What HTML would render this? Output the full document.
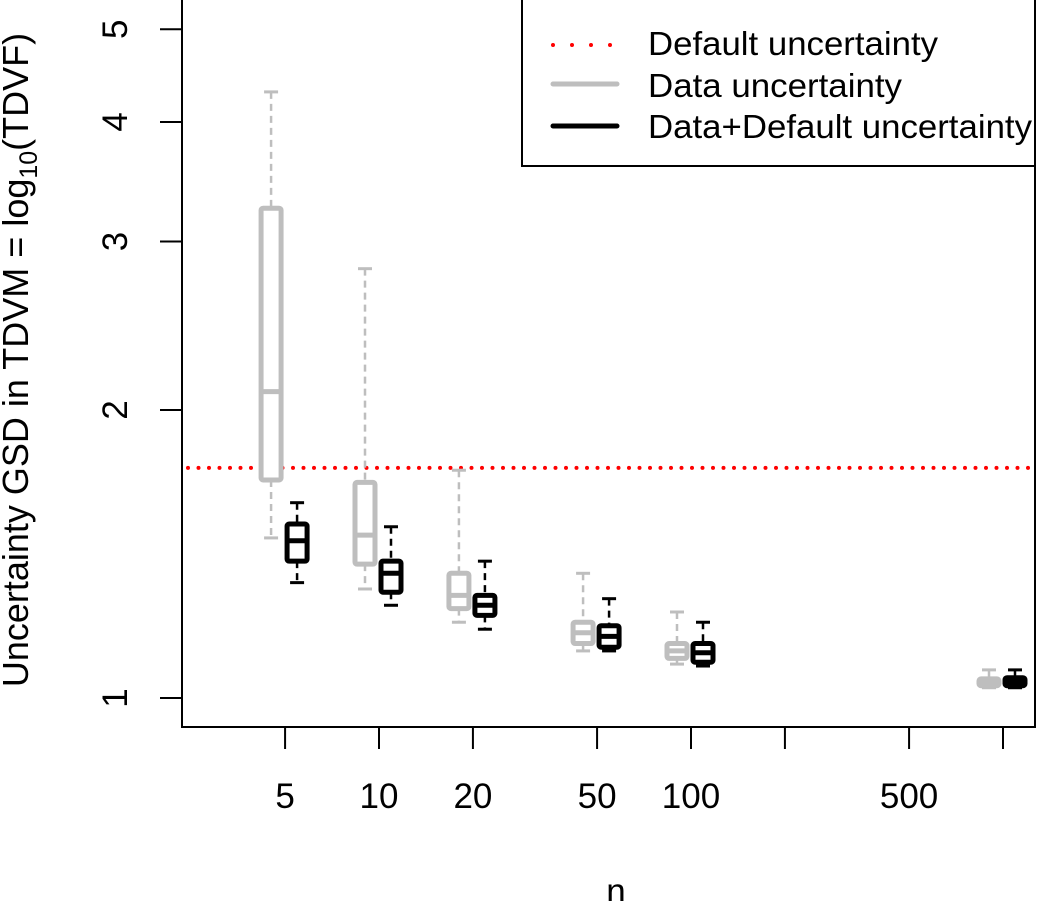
<!DOCTYPE html>
<html><head><meta charset="utf-8"><style>
html,body{margin:0;padding:0;background:#fff;}
svg{display:block;font-family:"Liberation Sans",Arial,sans-serif;}
</style></head><body>
<svg id="chart" width="1050" height="901" viewBox="0 0 1050 901" xmlns="http://www.w3.org/2000/svg">
<rect x="182" y="-2" width="853" height="729" fill="none" stroke="#000" stroke-width="2"/>
<g id="axes"></g>
<g id="marks"></g>
<text transform="translate(28,360) rotate(-90)" text-anchor="middle" font-size="36">Uncertainty GSD in TDVM =  <tspan>log</tspan><tspan font-size="25" dy="9">10</tspan><tspan dy="-9">(TDVF)</tspan></text>
<text x="616" y="903" text-anchor="middle" font-size="35">n</text>
<g>
<rect x="522" y="-2" width="513" height="168" fill="#fff" stroke="#000" stroke-width="2"/>
<line x1="553" y1="45" x2="613" y2="45" stroke="#f00" stroke-width="4" stroke-dasharray="0,19" stroke-linecap="round"/>
<text x="648" y="55" font-size="33" textLength="290" lengthAdjust="spacingAndGlyphs">Default uncertainty</text>
<line x1="553" y1="84" x2="617" y2="84" stroke="#bebebe" stroke-width="5" stroke-linecap="round"/>
<text x="648" y="97" font-size="33" textLength="254" lengthAdjust="spacingAndGlyphs">Data uncertainty</text>
<line x1="553" y1="126" x2="617" y2="126" stroke="#000" stroke-width="5" stroke-linecap="round"/>
<text x="648" y="138" font-size="33" textLength="384" lengthAdjust="spacingAndGlyphs">Data+Default uncertainty</text>
</g>
</svg>
<script>
const nValues=[5,10,20,50,100,1000];
// [low whisker, Q1, median, Q3, high whisker]
const dataUnc=[[1.47,1.69,2.09,3.25,4.30],[1.30,1.38,1.48,1.68,2.81],[1.20,1.24,1.28,1.35,1.73],[1.12,1.14,1.17,1.20,1.35],[1.085,1.10,1.12,1.14,1.23],[1.025,1.03,1.04,1.047,1.07]];
const comboUnc=[[1.32,1.39,1.46,1.52,1.60],[1.25,1.29,1.35,1.39,1.51],[1.18,1.22,1.25,1.28,1.39],[1.12,1.13,1.16,1.19,1.27],[1.08,1.09,1.115,1.14,1.20],[1.025,1.03,1.04,1.05,1.07]];
const defaultUnc=1.74;
const xTicks=[5,10,20,50,100,200,500,1000];
const xTickLabels=["5","10","20","50","100","","500",""];
const yTicks=[1,2,3,4,5];
const NS="http://www.w3.org/2000/svg";
const X=n=>379+312*(Math.log10(n)-1);
const Y=v=>698-956.8*Math.log10(v);
function mk(tag,attrs,parent){const e=document.createElementNS(NS,tag);for(const k in attrs)e.setAttribute(k,attrs[k]);parent.appendChild(e);return e;}
const axes=document.getElementById('axes'),marks=document.getElementById('marks');
xTicks.forEach((t,i)=>{
 const l=mk('line',{x1:X(t),x2:X(t),y1:727,y2:749,stroke:'#000','stroke-width':2},axes);
 
 
 if(xTickLabels[i]){const tx=mk('text',{x:X(t),y:808,'text-anchor':'middle','font-size':35},axes);tx.textContent=xTickLabels[i];
 
 }
});
yTicks.forEach(t=>{
 const l=mk('line',{x1:160,x2:182,y1:Y(t),y2:Y(t),stroke:'#000','stroke-width':2},axes);
 
 
 const tx=mk('text',{transform:`translate(127,${Y(t)}) rotate(-90)`,'text-anchor':'middle','font-size':35},axes);tx.textContent=t;
 
 
});
const dl=mk('line',{x1:188,x2:1034,y1:Y(defaultUnc),y2:Y(defaultUnc),stroke:'#f00','stroke-width':4,'stroke-dasharray':'0,10.5','stroke-linecap':'round'},marks);


function box(cx,s,col,name){
 const g=mk('g',{},marks);
 
 
 const w=10,c=7;
 mk('line',{x1:cx,x2:cx,y1:Y(s[4]),y2:Y(s[3]),stroke:col,'stroke-width':2.5,'stroke-dasharray':'7,5'},g);
 mk('line',{x1:cx,x2:cx,y1:Y(s[1]),y2:Y(s[0]),stroke:col,'stroke-width':2.5,'stroke-dasharray':'7,5'},g);
 mk('line',{x1:cx-c,x2:cx+c,y1:Y(s[4]),y2:Y(s[4]),stroke:col,'stroke-width':3},g);
 mk('line',{x1:cx-c,x2:cx+c,y1:Y(s[0]),y2:Y(s[0]),stroke:col,'stroke-width':3},g);
 mk('rect',{x:cx-w,y:Y(s[3]),width:2*w,height:Y(s[1])-Y(s[3]),fill:'#fff',stroke:col,'stroke-width':5,rx:2},g);
 mk('line',{x1:cx-w,x2:cx+w,y1:Y(s[2]),y2:Y(s[2]),stroke:col,'stroke-width':5},g);
}
nValues.forEach((n,i)=>{
 box(X(n)-14,dataUnc[i],'#bebebe','data-box-n'+n);
 box(X(n)+12,comboUnc[i],'#000','combined-box-n'+n);
});
</script>
</body></html>
